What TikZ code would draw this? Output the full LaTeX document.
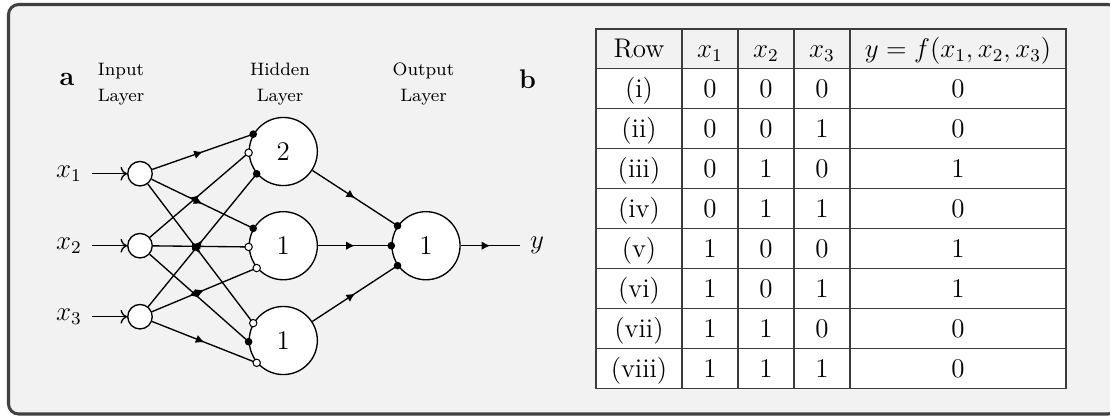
\documentclass[tikz,border=0pt,12pt]{standalone}
\usetikzlibrary{arrows.meta,decorations.markings}
\definecolor{framegray}{HTML}{404040}
\definecolor{panelbg}{HTML}{F2F2F2}
\definecolor{rulegray}{HTML}{3C3C3C}
\begin{document}
\begin{tikzpicture}[x=0.445pt,y=-0.445pt,
  conn/.style={line width=0.6pt},
  midarrow/.style={conn,postaction={decorate},
    decoration={markings,mark=at position 0.5 with {\arrow{Latex[length=3.8pt,width=3.8pt]}}}},
  neuron/.style={circle,draw,fill=white,line width=0.6pt,inner sep=0pt},
  inneuron/.style={neuron,minimum size=10.9pt},
  unit/.style={neuron,minimum size=30.3pt,font=\normalsize},
  exc/.style={circle,fill=black,inner sep=0pt,minimum size=3.4pt},
  inh/.style={circle,draw,fill=white,line width=0.45pt,inner sep=0pt,minimum size=3.3pt},
  varlab/.style={inner sep=4.5pt},
  layerlab/.style={anchor=base,font=\scriptsize,inner sep=0pt},
  panellab/.style={anchor=base,inner sep=0pt},
  tab/.style={draw=rulegray,line width=0.67pt},
  cell/.style={anchor=base,inner sep=0pt}]
\useasboundingbox (0,0) rectangle (1110,415);

% panel frame
\draw[fill=panelbg,draw=framegray,line width=1.35pt,rounded corners=4.5pt]
  (8.5,4.5) rectangle (1118,414);

% ---------- panel a: network ----------
\node[panellab] (pa) at (67,85.5) {\textbf{a}};
\node[panellab] (pb) at (527.5,88) {\textbf{b}};

\node[layerlab] (inT)  at (121,75)    {Input};
\node[layerlab] (inB)  at (121,101.7) {Layer};
\node[layerlab] (hidT) at (280,75)    {Hidden};
\node[layerlab] (hidB) at (280,101.7) {Layer};
\node[layerlab] (outT) at (423.5,75)  {Output};
\node[layerlab] (outB) at (423.5,101.7) {Layer};

% inputs
\node[varlab] (x1) at (69,173.7)   {$x_1$};
\node[varlab] (x2) at (69,245.7) {$x_2$};
\node[varlab] (x3) at (69,316.7) {$x_3$};
\node[inneuron] (i1) at (140,173.7)   {};
\node[inneuron] (i2) at (140,245.7) {};
\node[inneuron] (i3) at (140,316.7) {};

% hidden units with thresholds
\node[unit] (h1) at (283.3,151.5) {2};
\node[unit] (h2) at (283.3,245.7) {1};
\node[unit] (h3) at (283.3,340.5) {1};

% output unit
\node[unit] (o) at (426,245.7) {1};
\node[varlab] (ylab) at (537,245.7) {$y$};

\draw[conn,->] (x1) -- (i1);
\draw[conn,->] (x2) -- (i2);
\draw[conn,->] (x3) -- (i3);

% input -> hidden
\foreach \h in {1,2,3} {
  \draw[midarrow] (i1) -- (h\h.150);
  \draw[midarrow] (i2) -- (h\h.182);
  \draw[midarrow] (i3) -- (h\h.220);
}
% hidden -> output
\draw[midarrow] (h1) -- (o.145);
\draw[midarrow] (h2) -- (o.180);
\draw[midarrow] (h3) -- (o.215);
\draw[midarrow] (o) -- (ylab);

% synapses: filled = excitatory, open = inhibitory
\node[exc] (s11) at (h1.150) {};
\node[inh] (s12) at (h1.182) {};
\node[exc] (s13) at (h1.220) {};
\node[exc] (s21) at (h2.150) {};
\node[inh] (s22) at (h2.182) {};
\node[inh] (s23) at (h2.220) {};
\node[inh] (s31) at (h3.150) {};
\node[exc] (s32) at (h3.182) {};
\node[inh] (s33) at (h3.220) {};
\node[exc] (so1) at (o.145) {};
\node[exc] (so2) at (o.180) {};
\node[exc] (so3) at (o.215) {};

% ---------- panel b: truth table ----------
\fill[white] (596,68.5) rectangle (1066,388.5);
\foreach \yy in {68.5,108.5,148.5,188.5,228.5,268.5,308.5,348.5}
  \draw[tab] (596,\yy) -- (1066,\yy);
\foreach \xx in {682,738,794,850}
  \draw[tab] (\xx,29) -- (\xx,388.5);
\draw[tab] (596,29) rectangle (1066,388.5);

\node[cell] (hr) at (639,57.5)  {Row};
\node[cell] (ha) at (710,57.5)  {$x_1$};
\node[cell] (hb) at (766,57.5)  {$x_2$};
\node[cell] (hc) at (822,57.5)  {$x_3$};
\node[cell] (hf) at (958,57.5)  {$y = f(x_1, x_2, x_3)$};

\foreach \lab/\va/\vb/\vc/\vf [count=\k] in
  {{(i)}/0/0/0/0, {(ii)}/0/0/1/0, {(iii)}/0/1/0/1, {(iv)}/0/1/1/0,
   {(v)}/1/0/0/1, {(vi)}/1/0/1/1, {(vii)}/1/1/0/0, {(viii)}/1/1/1/0} {
  \node[cell] (r\k)  at (639,57+40*\k) {\lab};
  \node[cell] (a\k)  at (710,57+40*\k) {$\va$};
  \node[cell] (b\k)  at (766,57+40*\k) {$\vb$};
  \node[cell] (c\k)  at (822,57+40*\k) {$\vc$};
  \node[cell] (f\k)  at (958,57+40*\k) {$\vf$};
}
\end{tikzpicture}
\end{document}
